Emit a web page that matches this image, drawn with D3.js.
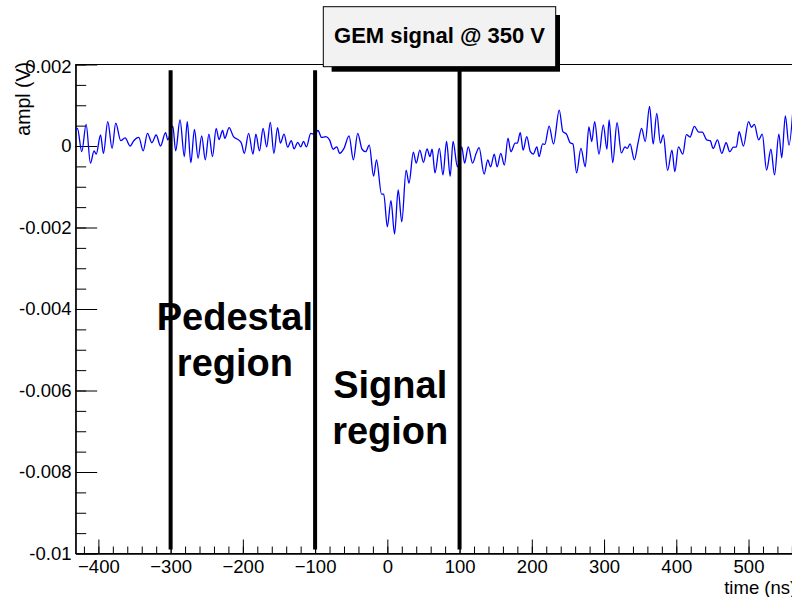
<!DOCTYPE html>
<html>
<head>
<meta charset="utf-8">
<script src="https://cdn.jsdelivr.net/npm/d3@7"></script>
<style>
  html, body { margin: 0; padding: 0; background: #fff; }
  svg { display: block; font-family: "Liberation Sans", Arial, Helvetica, sans-serif; }
</style>
</head>
<body>
<svg id="chart" width="792" height="597"></svg>
<script>
// waveform samples
const timeNs = [
  -431, -429, -423, -417, -411, -406, -403, -397, -393, -387,
  -381, -376, -369, -363, -356, -351, -344, -338, -332, -326,
  -320, -314, -307, -304, -297, -293, -287, -281, -277, -272,
  -267, -262, -257, -252, -247, -242, -237, -233, -228, -225,
  -219, -213, -206, -202, -198, -192, -186, -182, -177, -172,
  -167, -162, -157, -152, -148, -143, -138, -133, -129, -124,
  -120, -116, -112, -106, -101, -96, -91, -85, -80, -75,
  -70, -66, -60, -53, -47, -41, -35, -30, -25, -19,
  -15, -8, -5, 0, 5, 10, 15, 20, 26, 30,
  36, 40, 45, 50, 55, 59, 62, 66, 72, 77,
  82, 87, 91, 97, 103, 107, 112, 118, 123, 127,
  134, 139, 143, 148, 152, 157, 162, 167, 171, 177,
  180, 184, 188, 193, 198, 202, 207, 210, 215, 218,
  224, 230, 238, 243, 248, 253, 257, 262, 268, 274,
  279, 283, 287, 293, 299, 304, 307, 312, 318, 324,
  329, 332, 336, 342, 347, 352, 357, 363, 368, 373,
  378, 382, 388, 394, 398, 403, 409, 414, 419, 425,
  431, 436, 442, 447, 451, 457, 463, 469, 474, 479,
  483, 487, 493, 500, 504, 508, 514, 519, 525, 531,
  536, 542, 546, 551, 556, 562
];
const amplV = [
  0.00039, 0.00043, -0.00014, 0.00053, -0.00042, -0.00012, -0.00020, 0.00027, -0.00018, 0.00060,
  -0.00006, 0.00056, 0.00013, 0.00020, 0.00000, 0.00013, 0.00021, -0.00012, 0.00031, 0.00008,
  0.00027, 0.00000, 0.00033, 0.00015, 0.00049, -0.00012, 0.00064, -0.00026, 0.00060, -0.00041,
  0.00041, -0.00030, 0.00025, -0.00034, 0.00029, -0.00026, 0.00043, 0.00016, 0.00038, 0.00019,
  0.00045, 0.00023, 0.00015, 0.00007, -0.00018, 0.00031, -0.00020, 0.00029, -0.00012, 0.00043,
  -0.00002, 0.00058, -0.00018, 0.00045, 0.00007, 0.00029, -0.00003, 0.00013, -0.00007, 0.00009,
  -0.00002, 0.00011, -0.00002, 0.00031, 0.00029, 0.00038, 0.00021, 0.00023, 0.00015, -0.00008,
  -0.00002, -0.00018, -0.00006, 0.00025, -0.00034, 0.00031, -0.00008, -0.00014, 0.00002, -0.00074,
  -0.00034, -0.00118, -0.00118, -0.00198, -0.00134, -0.00216, -0.00108, -0.00186, -0.00059, -0.00091,
  -0.00015, -0.00042, -0.00010, -0.00040, -0.00007, -0.00026, -0.00008, -0.00066, -0.00006, -0.00071,
  0.00011, -0.00074, 0.00011, -0.00051, -0.00002, -0.00042, -0.00002, -0.00042, -0.00018, -0.00004,
  -0.00069, -0.00034, -0.00051, -0.00020, -0.00051, -0.00018, -0.00047, 0.00019, -0.00014, 0.00007,
  0.00007, 0.00033, -0.00010, 0.00023, -0.00014, -0.00020, -0.00002, -0.00026, 0.00005, 0.00004,
  0.00049, 0.00005, 0.00088, 0.00035, 0.00029, 0.00008, 0.00005, -0.00066, -0.00006, -0.00051,
  0.00047, 0.00011, 0.00060, -0.00020, 0.00052, -0.00008, 0.00064, -0.00041, 0.00057, -0.00017,
  -0.00002, -0.00006, 0.00005, -0.00034, 0.00007, 0.00043, 0.00011, 0.00097, 0.00005, 0.00080,
  0.00007, 0.00027, -0.00060, -0.00010, -0.00063, -0.00002, -0.00020, 0.00028, 0.00022, 0.00048,
  0.00034, 0.00034, 0.00015, 0.00013, -0.00006, 0.00015, -0.00018, 0.00008, -0.00014, -0.00003,
  -0.00003, 0.00035, 0.00000, 0.00060, 0.00046, 0.00053, 0.00015, 0.00029, -0.00059, -0.00008,
  -0.00071, 0.00029, -0.00029, 0.00074, 0.00002, 0.00103
];

const regionEdges = [-300, -100, 100];
const edgeTop = 0.00186;
const edgeBottom = -0.0099;

const xTickValues = [-400, -300, -200, -100, 0, 100, 200, 300, 400, 500];
const yTickValues = [0.002, 0, -0.002, -0.004, -0.006, -0.008, -0.01];
const yTickLabels = ['0.002', '0', '-0.002', '-0.004', '-0.006', '-0.008', '-0.01'];

const titleText = 'GEM signal @ 350 V';
const xTitle = 'time (ns)';
const yTitle = 'ampl (V)';
const regionNames = [
  { lines: ['Pedestal', 'region'], t: -211, v: -0.00452 },
  { lines: ['Signal', 'region'], t: 4, v: -0.00619 }
];

const frame = { left: 75.7, top: 64.5, right: 796.2, bottom: 553.5 };

const x = d3.scaleLinear().domain([-431.4, 566]).range([frame.left, frame.right]);
const y = d3.scaleLinear().domain([-0.01, 0.002]).range([frame.bottom, frame.top]);

const svg = d3.select('#chart');
svg.append('rect').attr('width', 792).attr('height', 597).attr('fill', '#fff');

svg.append('defs').append('clipPath').attr('id', 'plot-clip')
  .append('rect')
  .attr('x', frame.left).attr('y', frame.top)
  .attr('width', frame.right - frame.left).attr('height', frame.bottom - frame.top);

// frame
svg.append('rect')
  .attr('x', frame.left).attr('y', frame.top)
  .attr('width', frame.right - frame.left).attr('height', frame.bottom - frame.top)
  .attr('fill', 'none').attr('stroke', '#000').attr('stroke-width', 1);

// y title sits under the top tick label
svg.append('text')
  .attr('transform', `translate(29.5,${frame.top - 2.5}) rotate(-90)`)
  .attr('text-anchor', 'end')
  .style('font-size', '19.5px')
  .text(yTitle);

// x axis: minor then major
svg.append('g')
  .attr('transform', `translate(0,${frame.bottom})`)
  .call(d3.axisBottom(x).tickValues(d3.range(-420, 566, 20)).tickSizeInner(-7).tickSizeOuter(0).tickFormat(''))
  .call(g => g.select('.domain').remove());

const gx = svg.append('g')
  .attr('transform', `translate(0,${frame.bottom})`)
  .call(d3.axisBottom(x).tickValues(xTickValues).tickSizeInner(-14).tickSizeOuter(0).tickPadding(6.7).tickFormat(d3.format('d')));
gx.select('.domain').attr('stroke-width', 1.6);
gx.selectAll('text').style('font-size', '18.5px');
gx.attr('font-family', null).attr('font-size', null);

// y axis: minor then major
svg.append('g')
  .attr('transform', `translate(${frame.left},0)`)
  .call(d3.axisLeft(y).tickValues(d3.range(-0.0095, 0.00201, 0.0005)).tickSizeInner(-10.5).tickSizeOuter(0).tickFormat(''))
  .call(g => g.select('.domain').remove());

const gy = svg.append('g')
  .attr('transform', `translate(${frame.left},0)`)
  .call(d3.axisLeft(y).tickValues(yTickValues).tickSizeInner(-21.5).tickSizeOuter(0).tickPadding(4.2)
    .tickFormat((d, i) => yTickLabels[i]));
gy.select('.domain').attr('stroke-width', 1.2);
gy.selectAll('text').style('font-size', '18.5px');
// the top label is pushed down a little, as in the source
gy.selectAll('.tick').filter(d => d === yTickValues[0]).select('text').attr('y', 2);
gy.attr('font-family', null).attr('font-size', null);

svg.append('text')
  .attr('x', frame.right).attr('y', 594)
  .attr('text-anchor', 'end')
  .style('font-size', '18.5px')
  .text(xTitle);

// waveform
const line = d3.line()
  .x(d => x(d[0]))
  .y(d => y(d[1]))
  .curve(d3.curveMonotoneX);

svg.append('path')
  .datum(d3.zip(timeNs, amplV))
  .attr('clip-path', 'url(#plot-clip)')
  .attr('d', line)
  .attr('fill', 'none')
  .attr('stroke', '#0000ff')
  .attr('stroke-width', 1.3)
  .attr('stroke-linejoin', 'round');

// region edges
svg.selectAll('.edge')
  .data(regionEdges)
  .enter().append('line')
  .attr('class', 'edge')
  .attr('x1', d => x(d)).attr('x2', d => x(d))
  .attr('y1', y(edgeTop)).attr('y2', y(edgeBottom))
  .attr('stroke', '#000')
  .attr('stroke-width', 4);

// region labels
const lbl = svg.selectAll('.region-label')
  .data(regionNames)
  .enter().append('text')
  .attr('class', 'region-label')
  .attr('text-anchor', 'middle')
  .style('font-size', '38px')
  .style('font-weight', 'bold');
lbl.selectAll('tspan')
  .data(d => d.lines.map((s, i) => ({ s, i, d })))
  .enter().append('tspan')
  .attr('x', o => x(o.d.t))
  .attr('y', o => y(o.d.v) + o.i * 46)
  .text(o => o.s);

// title box with drop shadow
const tb = { x: 323.3, y: 6.7, w: 232.4, h: 60 };
svg.append('rect')
  .attr('x', tb.x + 8.3).attr('y', tb.y + 8.3)
  .attr('width', tb.w - 4).attr('height', tb.h - 3.3)
  .attr('fill', '#000');
svg.append('rect')
  .attr('x', tb.x).attr('y', tb.y)
  .attr('width', tb.w).attr('height', tb.h)
  .attr('fill', '#f2f2f2').attr('stroke', '#000').attr('stroke-width', 1);
svg.append('text')
  .attr('x', tb.x + tb.w / 2).attr('y', 43.3)
  .attr('text-anchor', 'middle')
  .style('font-size', '22px')
  .style('font-weight', 'bold')
  .text(titleText);
</script>
</body>
</html>
